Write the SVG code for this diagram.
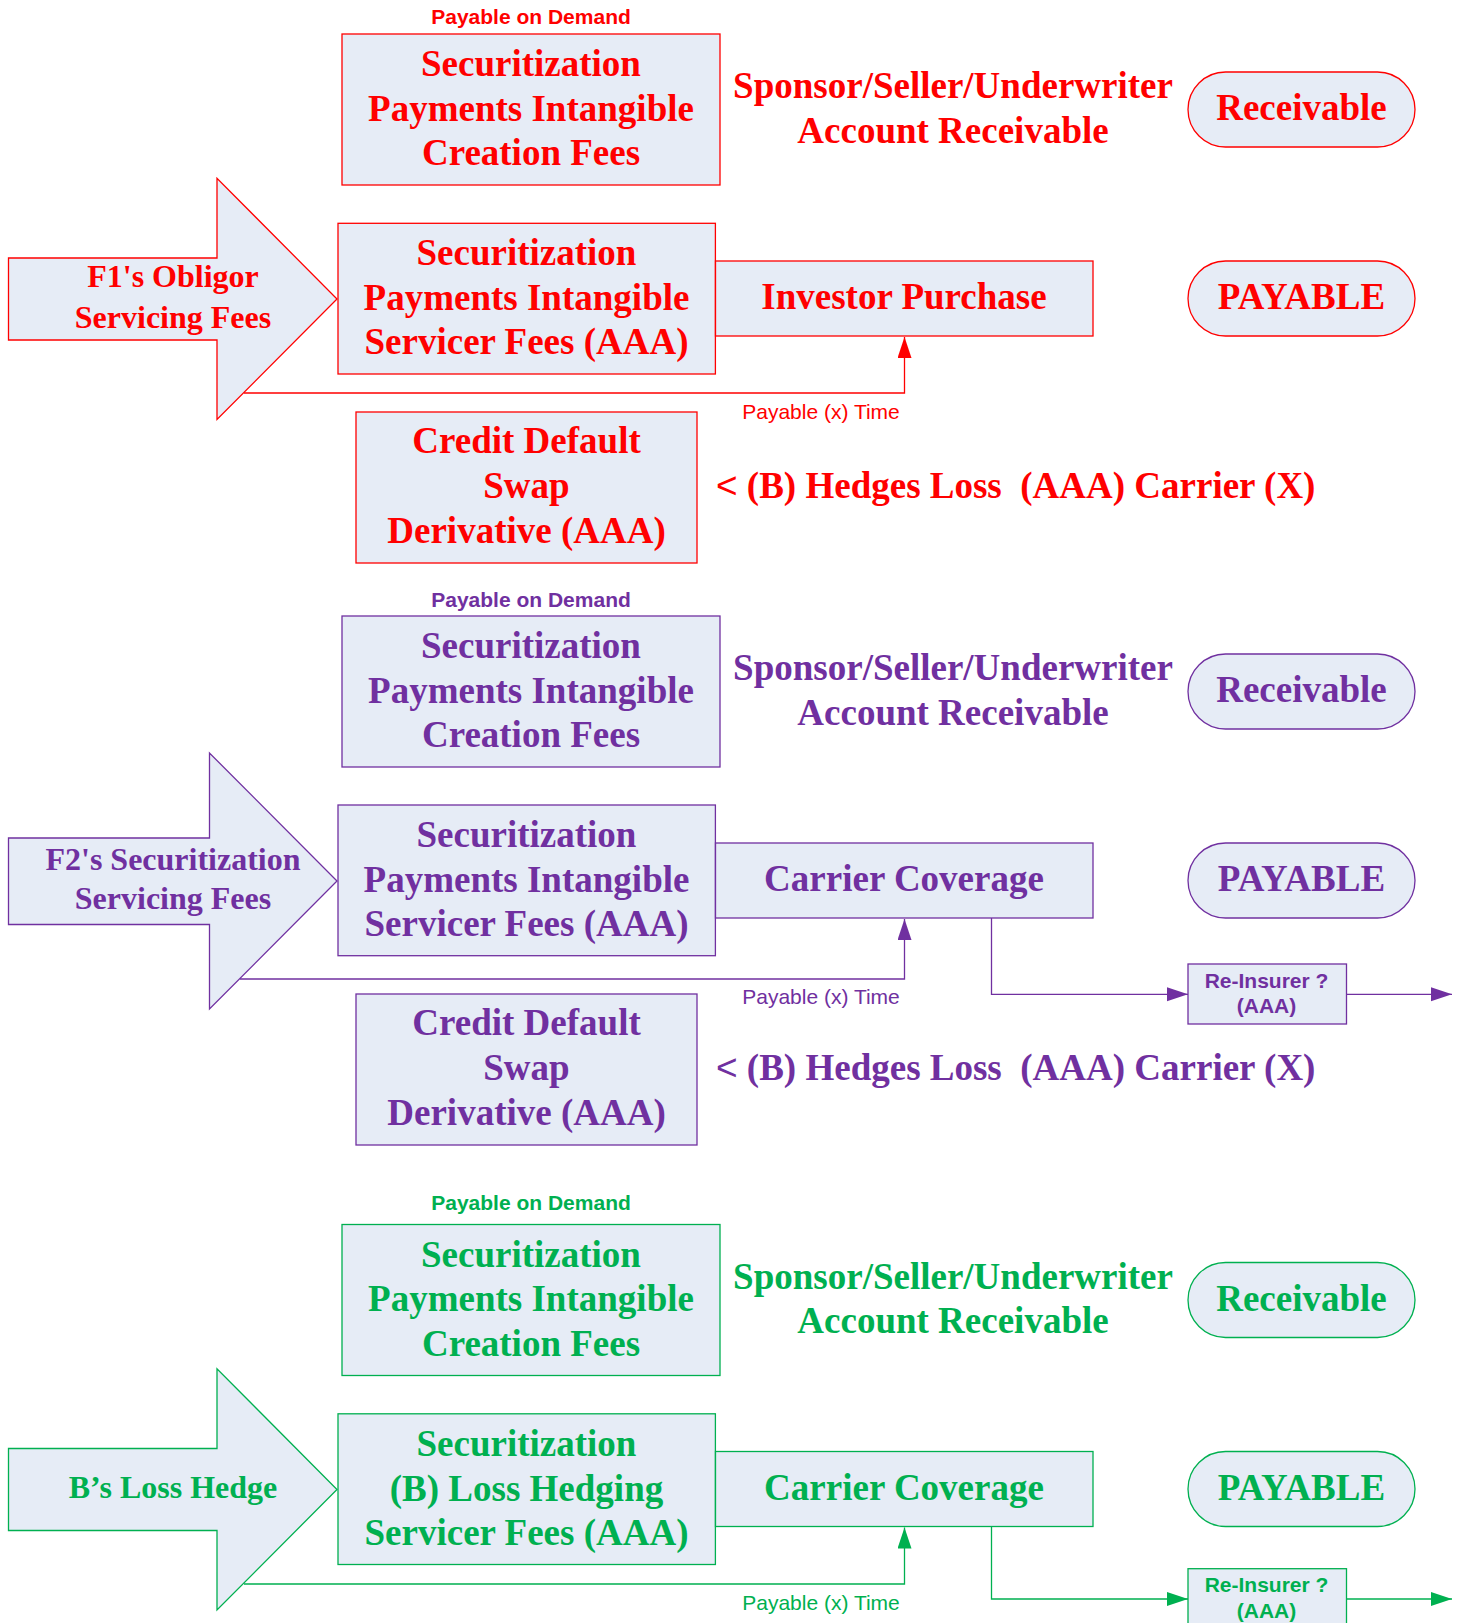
<svg xmlns="http://www.w3.org/2000/svg" width="1465" height="1623" viewBox="0 0 1465 1623">
<defs>
<style>
.box{fill:#E6ECF6;stroke-width:1.3}
.r .box,.r .ln{stroke:#FF0000}
.p .box,.p .ln{stroke:#7030A0}
.g .box,.g .ln{stroke:#00B050}
.r text{fill:#FF0000}
.p text{fill:#7030A0}
.g text{fill:#00B050}
.ln{fill:none;stroke-width:1.3}
.big{font-family:"Liberation Serif","Times New Roman",serif;font-weight:bold;font-size:37px;text-anchor:middle}
.mid{font-family:"Liberation Serif","Times New Roman",serif;font-weight:bold;font-size:32px;text-anchor:middle}
.lab{font-family:"Liberation Sans",Arial,sans-serif;font-weight:bold;font-size:21px;text-anchor:middle}
.tim{font-family:"Liberation Sans",Arial,sans-serif;font-size:21px;text-anchor:middle}
.hed{font-family:"Liberation Serif","Times New Roman",serif;font-weight:bold;font-size:37px}
.lt{font-family:"Liberation Sans",Arial,sans-serif;font-weight:normal}
</style>
<marker id="mr" markerUnits="userSpaceOnUse" markerWidth="22" markerHeight="15" refX="21" refY="7" orient="auto"><path d="M0,0 L21,7 L0,14 z" fill="#FF0000"/></marker>
<marker id="mp" markerUnits="userSpaceOnUse" markerWidth="22" markerHeight="15" refX="21" refY="7" orient="auto"><path d="M0,0 L21,7 L0,14 z" fill="#7030A0"/></marker>
<marker id="mg" markerUnits="userSpaceOnUse" markerWidth="22" markerHeight="15" refX="21" refY="7" orient="auto"><path d="M0,0 L21,7 L0,14 z" fill="#00B050"/></marker>
</defs>
<rect width="1465" height="1623" fill="#FFFFFF"/>

<!-- ===== Section 1 (red) ===== -->
<g class="r">
<g id="connectors-red">
<path class="ln" d="M244,393 H904.5 V337" marker-end="url(#mr)"/>
</g>
<g id="r-label-demand"><text class="lab" x="531" y="24">Payable on Demand</text></g>
<g id="r-creation">
<rect class="box" x="342" y="34" width="378" height="151"/>
<text class="big" x="531" y="76">Securitization</text>
<text class="big" x="531" y="120.5">Payments Intangible</text>
<text class="big" x="531" y="165">Creation Fees</text>
</g>
<g id="r-sponsor">
<text class="big" x="953" y="98.3">Sponsor/Seller/Underwriter</text>
<text class="big" x="953" y="142.7">Account Receivable</text>
</g>
<g id="r-receivable">
<rect class="box" x="1188" y="72" width="227" height="75" rx="37.5" ry="37.5"/>
<text class="big" x="1301.5" y="120">Receivable</text>
</g>
<g id="r-arrow">
<polygon class="box" points="8.5,258 217,258 217,178.3 337,299 217,419.5 217,340 8.5,340"/>
<text class="mid" x="173" y="287">F1's Obligor</text>
<text class="mid" x="173" y="327.7">Servicing Fees</text>
</g>
<g id="r-servicer">
<rect class="box" x="338" y="223.3" width="377.4" height="150.7"/>
<text class="big" x="526.5" y="265">Securitization</text>
<text class="big" x="526.5" y="310">Payments Intangible</text>
<text class="big" x="526.5" y="354.3">Servicer Fees (AAA)</text>
</g>
<g id="r-investor">
<rect class="box" x="715.5" y="261" width="377.5" height="75"/>
<text class="big" x="904" y="309">Investor Purchase</text>
</g>
<g id="r-payable">
<rect class="box" x="1188" y="261" width="227" height="75" rx="37.5" ry="37.5"/>
<text class="big" x="1301.5" y="309">PAYABLE</text>
</g>
<g id="r-time"><text class="tim" x="821" y="419">Payable (x) Time</text></g>
<g id="r-cds">
<rect class="box" x="356" y="412" width="341" height="151"/>
<text class="big" x="526.5" y="453.3">Credit Default</text>
<text class="big" x="526.5" y="498.3">Swap</text>
<text class="big" x="526.5" y="543.3">Derivative (AAA)</text>
</g>
<g id="r-hedges"><text class="hed" x="716" y="498.3" xml:space="preserve"><tspan class="lt">&lt;</tspan> (B) Hedges Loss  (AAA) Carrier (X)</text></g>
</g>

<!-- ===== Section 2 (purple) ===== -->
<g class="p">
<g id="connectors-purple">
<path class="ln" d="M240,979 H904.5 V919" marker-end="url(#mp)"/>
<path class="ln" d="M991.5,918 V994.3 H1188" marker-end="url(#mp)"/>
<path class="ln" d="M1346.5,994.3 H1452" marker-end="url(#mp)"/>
</g>
<g id="p-label-demand"><text class="lab" x="531" y="606.7">Payable on Demand</text></g>
<g id="p-creation">
<rect class="box" x="342" y="616" width="378" height="151"/>
<text class="big" x="531" y="658">Securitization</text>
<text class="big" x="531" y="702.5">Payments Intangible</text>
<text class="big" x="531" y="747">Creation Fees</text>
</g>
<g id="p-sponsor">
<text class="big" x="953" y="680.3">Sponsor/Seller/Underwriter</text>
<text class="big" x="953" y="724.7">Account Receivable</text>
</g>
<g id="p-receivable">
<rect class="box" x="1188" y="654" width="227" height="75" rx="37.5" ry="37.5"/>
<text class="big" x="1301.5" y="702">Receivable</text>
</g>
<g id="p-arrow">
<polygon class="box" points="8.5,838 209.5,838 209.5,753 337,881 209.5,1009 209.5,924.5 8.5,924.5"/>
<text class="mid" x="173" y="870">F2's Securitization</text>
<text class="mid" x="173" y="909">Servicing Fees</text>
</g>
<g id="p-servicer">
<rect class="box" x="338" y="805" width="377.4" height="150.7"/>
<text class="big" x="526.5" y="847">Securitization</text>
<text class="big" x="526.5" y="892">Payments Intangible</text>
<text class="big" x="526.5" y="936.3">Servicer Fees (AAA)</text>
</g>
<g id="p-carrier">
<rect class="box" x="715.5" y="843" width="377.5" height="75"/>
<text class="big" x="904" y="891">Carrier Coverage</text>
</g>
<g id="p-payable">
<rect class="box" x="1188" y="843" width="227" height="75" rx="37.5" ry="37.5"/>
<text class="big" x="1301.5" y="891">PAYABLE</text>
</g>
<g id="p-time"><text class="tim" x="821" y="1004.3">Payable (x) Time</text></g>
<g id="p-reinsurer">
<rect class="box" x="1188" y="964" width="158.5" height="60"/>
<text class="lab" x="1266.5" y="987.5">Re-Insurer ?</text>
<text class="lab" x="1266.5" y="1013">(AAA)</text>
</g>
<g id="p-cds">
<rect class="box" x="356" y="994" width="341" height="151"/>
<text class="big" x="526.5" y="1035.3">Credit Default</text>
<text class="big" x="526.5" y="1080.3">Swap</text>
<text class="big" x="526.5" y="1125.3">Derivative (AAA)</text>
</g>
<g id="p-hedges"><text class="hed" x="716" y="1080.3" xml:space="preserve"><tspan class="lt">&lt;</tspan> (B) Hedges Loss  (AAA) Carrier (X)</text></g>
</g>

<!-- ===== Section 3 (green) ===== -->
<g class="g">
<g id="connectors-green">
<path class="ln" d="M244,1584 H904.5 V1527.5" marker-end="url(#mg)"/>
<path class="ln" d="M991.5,1527 V1599 H1188" marker-end="url(#mg)"/>
<path class="ln" d="M1346.5,1599 H1452" marker-end="url(#mg)"/>
</g>
<g id="g-label-demand"><text class="lab" x="531" y="1210">Payable on Demand</text></g>
<g id="g-creation">
<rect class="box" x="342" y="1224.5" width="378" height="151"/>
<text class="big" x="531" y="1266.5">Securitization</text>
<text class="big" x="531" y="1311">Payments Intangible</text>
<text class="big" x="531" y="1355.5">Creation Fees</text>
</g>
<g id="g-sponsor">
<text class="big" x="953" y="1288.8">Sponsor/Seller/Underwriter</text>
<text class="big" x="953" y="1333.2">Account Receivable</text>
</g>
<g id="g-receivable">
<rect class="box" x="1188" y="1262.5" width="227" height="75" rx="37.5" ry="37.5"/>
<text class="big" x="1301.5" y="1310.5">Receivable</text>
</g>
<g id="g-arrow">
<polygon class="box" points="8.5,1448.5 217,1448.5 217,1368.8 337,1489.5 217,1610 217,1530.5 8.5,1530.5"/>
<text class="mid" x="173" y="1498.3">B’s Loss Hedge</text>
</g>
<g id="g-servicer">
<rect class="box" x="338" y="1413.8" width="377.4" height="150.7"/>
<text class="big" x="526.5" y="1455.5">Securitization</text>
<text class="big" x="526.5" y="1500.5">(B) Loss Hedging</text>
<text class="big" x="526.5" y="1544.8">Servicer Fees (AAA)</text>
</g>
<g id="g-carrier">
<rect class="box" x="715.5" y="1451.5" width="377.5" height="75"/>
<text class="big" x="904" y="1499.5">Carrier Coverage</text>
</g>
<g id="g-payable">
<rect class="box" x="1188" y="1451.5" width="227" height="75" rx="37.5" ry="37.5"/>
<text class="big" x="1301.5" y="1499.5">PAYABLE</text>
</g>
<g id="g-time"><text class="tim" x="821" y="1609.5">Payable (x) Time</text></g>
<g id="g-reinsurer">
<rect class="box" x="1188" y="1568.7" width="158.5" height="60"/>
<text class="lab" x="1266.5" y="1592">Re-Insurer ?</text>
<text class="lab" x="1266.5" y="1618">(AAA)</text>
</g>
</g>
</svg>
